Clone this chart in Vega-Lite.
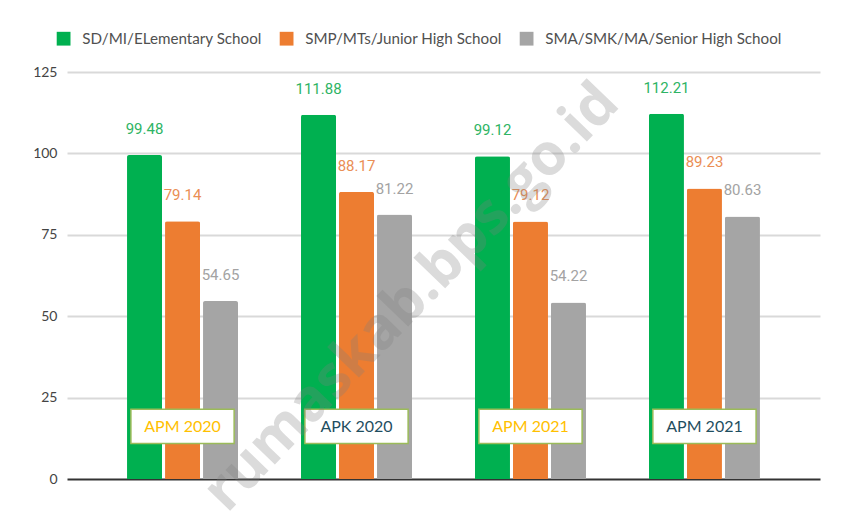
{
  "$schema": "https://vega.github.io/schema/vega-lite/v6.json",
  "width": 753,
  "height": 407,
  "autosize": "none",
  "padding": {"left": 67, "top": 72, "right": 21, "bottom": 33},
  "background": "white",
  "config": {"view": {"stroke": null}},
  "datasets": {
    "main": [
      {"group": "G1", "label": "APM 2020", "level": "SD/MI/ELementary School", "value": 99.48},
      {"group": "G1", "label": "APM 2020", "level": "SMP/MTs/Junior High School", "value": 79.14},
      {"group": "G1", "label": "APM 2020", "level": "SMA/SMK/MA/Senior High School", "value": 54.65},
      {"group": "G2", "label": "APK 2020", "level": "SD/MI/ELementary School", "value": 111.88},
      {"group": "G2", "label": "APK 2020", "level": "SMP/MTs/Junior High School", "value": 88.17},
      {"group": "G2", "label": "APK 2020", "level": "SMA/SMK/MA/Senior High School", "value": 81.22},
      {"group": "G3", "label": "APM 2021", "level": "SD/MI/ELementary School", "value": 99.12},
      {"group": "G3", "label": "APM 2021", "level": "SMP/MTs/Junior High School", "value": 79.12},
      {"group": "G3", "label": "APM 2021", "level": "SMA/SMK/MA/Senior High School", "value": 54.22},
      {"group": "G4", "label": "APM 2021", "level": "SD/MI/ELementary School", "value": 112.21},
      {"group": "G4", "label": "APM 2021", "level": "SMP/MTs/Junior High School", "value": 89.23},
      {"group": "G4", "label": "APM 2021", "level": "SMA/SMK/MA/Senior High School", "value": 80.63}
    ],
    "watermark": [{"text": "rumaskab.bps.go.id"}]
  },
  "data": {"name": "main"},
  "encoding": {
    "x": {
      "field": "group",
      "type": "nominal",
      "axis": null,
      "scale": {"paddingInner": 0.362, "paddingOuter": 0.345}
    }
  },
  "layer": [
    {
      "mark": {"type": "bar", "cornerRadiusTopLeft": 2, "cornerRadiusTopRight": 2},
      "encoding": {
        "xOffset": {
          "field": "level",
          "type": "nominal",
          "sort": ["SD/MI/ELementary School", "SMP/MTs/Junior High School", "SMA/SMK/MA/Senior High School"],
          "scale": {"paddingInner": 0.079, "paddingOuter": 0}
        },
        "y": {
          "field": "value",
          "type": "quantitative",
          "scale": {"domain": [0, 125], "nice": false},
          "axis": {
            "values": [0, 25, 50, 75, 100, 125],
            "title": null,
            "domain": false,
            "ticks": false,
            "labelPadding": 10,
            "labelFont": "Lato",
            "labelFontSize": 14,
            "labelColor": "#444444",
            "gridColor": {"condition": {"test": "datum.value === 0", "value": "#333333"}, "value": "#d9d9d9"},
            "gridWidth": 2
          }
        },
        "color": {
          "field": "level",
          "type": "nominal",
          "sort": ["SD/MI/ELementary School", "SMP/MTs/Junior High School", "SMA/SMK/MA/Senior High School"],
          "scale": {"range": ["#00b050", "#ed7d31", "#a5a5a5"]},
          "legend": {
            "title": null,
            "orient": "none",
            "direction": "horizontal",
            "legendX": -11,
            "legendY": -41,
            "symbolType": "square",
            "symbolSize": 190,
            "symbolStrokeWidth": 0,
            "labelFont": "Lato",
            "labelFontSize": 15.2,
            "labelLimit": 0,
            "labelColor": "#505050",
            "labelOffset": 11,
            "columnPadding": 17
          }
        }
      }
    },
    {
      "mark": {"type": "text", "baseline": "middle", "dy": -26, "font": "Roboto", "fontSize": 15},
      "encoding": {
        "xOffset": {
          "field": "level",
          "type": "nominal",
          "sort": ["SD/MI/ELementary School", "SMP/MTs/Junior High School", "SMA/SMK/MA/Senior High School"],
          "scale": {"paddingInner": 0.079, "paddingOuter": 0}
        },
        "y": {"field": "value", "type": "quantitative"},
        "text": {"field": "value", "type": "quantitative", "format": ".2f"},
        "color": {
          "field": "level",
          "type": "nominal",
          "sort": ["SD/MI/ELementary School", "SMP/MTs/Junior High School", "SMA/SMK/MA/Senior High School"],
          "scale": {"range": ["#2eb464", "#ea8e55", "#a3a3a3"]},
          "legend": null
        }
      }
    },
    {
      "transform": [{"filter": "datum.level === 'SD/MI/ELementary School'"}],
      "mark": {"type": "bar", "width": {"band": 0.93}, "fill": "white", "stroke": "#9bbb59", "strokeWidth": 1.5},
      "encoding": {
        "y": {"datum": 10.9},
        "y2": {"datum": 21.4}
      }
    },
    {
      "transform": [{"filter": "datum.level === 'SD/MI/ELementary School'"}],
      "mark": {"type": "text", "baseline": "middle", "font": "Lato", "fontSize": 16},
      "encoding": {
        "y": {"datum": 16.1},
        "text": {"field": "label", "type": "nominal"},
        "color": {
          "field": "group",
          "type": "nominal",
          "scale": {"domain": ["G1", "G2", "G3", "G4"], "range": ["#ffc000", "#1f4e5f", "#ffc000", "#1f4e5f"]},
          "legend": null
        }
      }
    },
    {
      "data": {"name": "watermark"},
      "mark": {"type": "text", "angle": -46, "font": "Open Sans", "fontWeight": "bold", "fontSize": 58, "fill": "#7f7f7f", "opacity": 0.28, "baseline": "middle", "align": "center"},
      "encoding": {
        "x": {"datum": "G2", "bandPosition": 1},
        "y": {"datum": 55.6},
        "text": {"field": "text", "type": "nominal"}
      }
    }
  ],
  "resolve": {"scale": {"color": "independent"}}
}
